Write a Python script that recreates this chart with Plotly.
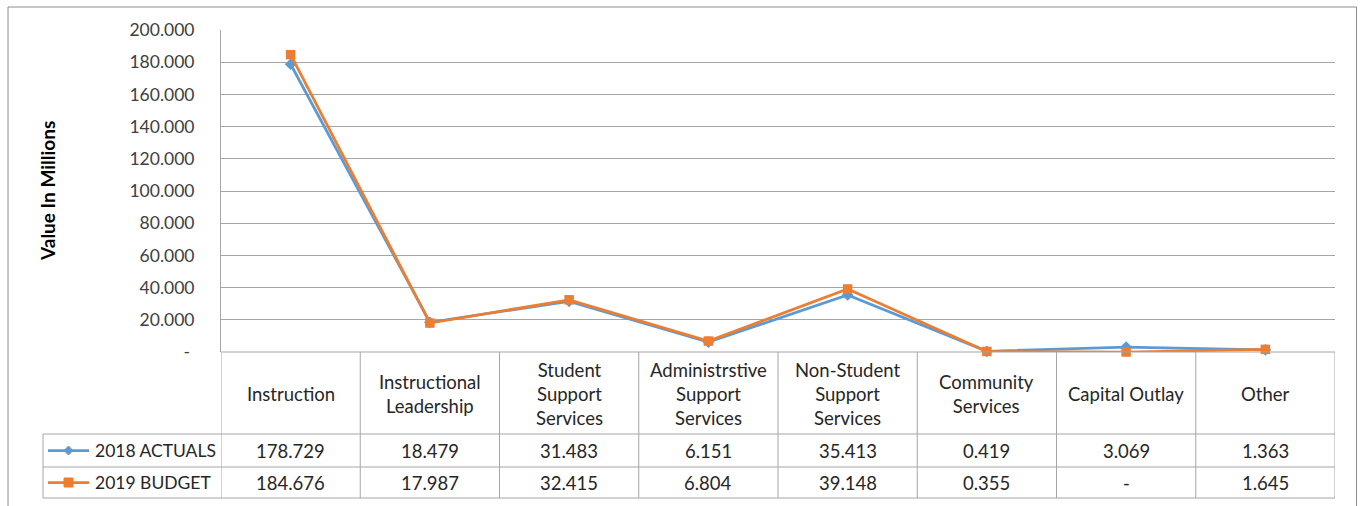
import plotly.graph_objects as go

# Categories and series values (millions)
categories = [
    "Instruction",
    "Instructional<br>Leadership",
    "Student<br>Support<br>Services",
    "Administrstive<br>Support<br>Services",
    "Non-Student<br>Support<br>Services",
    "Community<br>Services",
    "Capital Outlay",
    "Other",
]
actuals_2018 = [178.729, 18.479, 31.483, 6.151, 35.413, 0.419, 3.069, 1.363]
budget_2019 = [184.676, 17.987, 32.415, 6.804, 39.148, 0.355, 0.0, 1.645]
series_names = ["2018 ACTUALS", "2019 BUDGET"]
y_ticks = [0, 20, 40, 60, 80, 100, 120, 140, 160, 180, 200]

W, H = 1364, 506
BLUE = "#5B9BD5"
ORANGE = "#ED7D31"
GRID = "#A6A6A6"
TEXT = "#262626"
FONT = "Lato"
TABLE_SIZE = 18.5


def px(x):
    return x / W


def py(y):
    return 1 - y / H


def fmt(v):
    return "-" if v == 0 else f"{v:.3f}"


# Layout geometry (pixels)
PLOT_L, PLOT_R = 221, 1335
PLOT_T, PLOT_B = 30, 352
HEAD_B, ROW1_B, ROW2_B = 434, 467, 498
LEG_L = 43

xs = list(range(len(categories)))

fig = go.Figure()
fig.add_trace(go.Scatter(
    x=xs, y=actuals_2018, mode="lines+markers", name=series_names[0],
    line=dict(color=BLUE, width=2.75),
    marker=dict(symbol="diamond", size=9, color=BLUE),
    cliponaxis=False, showlegend=False,
))
fig.add_trace(go.Scatter(
    x=xs, y=budget_2019, mode="lines+markers", name=series_names[1],
    line=dict(color=ORANGE, width=2.75),
    marker=dict(symbol="square", size=9.5, color=ORANGE),
    cliponaxis=False, showlegend=False,
))

shapes = []
annotations = []

# Outer chart border
shapes.append(dict(type="rect", xref="paper", yref="paper",
                   x0=px(8), x1=px(1356.5), y0=py(512), y1=py(7),
                   line=dict(color="#8C8C8C", width=1), fillcolor="rgba(0,0,0,0)"))

# Data table grid: horizontal rules
shapes.append(dict(type="line", xref="paper", yref="paper",
                   x0=px(PLOT_L), x1=px(PLOT_R), y0=py(PLOT_B), y1=py(PLOT_B),
                   line=dict(color=GRID, width=1)))
for yy in (HEAD_B, ROW1_B, ROW2_B):
    shapes.append(dict(type="line", xref="paper", yref="paper",
                       x0=px(LEG_L), x1=px(PLOT_R), y0=py(yy), y1=py(yy),
                       line=dict(color=GRID, width=1)))
# vertical rules at category boundaries
for i in range(len(categories) + 1):
    shapes.append(dict(type="line", xref="x", yref="paper",
                       x0=i - 0.5, x1=i - 0.5, y0=py(PLOT_B), y1=py(ROW2_B),
                       line=dict(color=GRID, width=1)))
# legend column left edge
shapes.append(dict(type="line", xref="paper", yref="paper",
                   x0=px(LEG_L), x1=px(LEG_L), y0=py(HEAD_B), y1=py(ROW2_B),
                   line=dict(color=GRID, width=1)))

# Category headers
for i, cat in enumerate(categories):
    annotations.append(dict(x=i, y=py((PLOT_B + HEAD_B) / 2 + 1), xref="x", yref="paper",
                            text=cat, showarrow=False, align="center",
                            xanchor="center", yanchor="middle",
                            font=dict(family=FONT, size=TABLE_SIZE, color=TEXT)))

# Table value rows with legend keys
rows = [(actuals_2018, series_names[0], BLUE, "diamond", (HEAD_B + ROW1_B) / 2),
        (budget_2019, series_names[1], ORANGE, "square", (ROW1_B + ROW2_B) / 2)]
for values, name, color, sym, yc in rows:
    for i, v in enumerate(values):
        annotations.append(dict(x=i, y=py(yc), xref="x", yref="paper",
                                text=fmt(v), showarrow=False,
                                xanchor="center", yanchor="middle",
                                font=dict(family=FONT, size=TABLE_SIZE, color=TEXT)))
    annotations.append(dict(x=px(93), y=py(yc), xref="paper", yref="paper",
                            text=name, showarrow=False, xanchor="left", yanchor="middle",
                            font=dict(family=FONT, size=17.5, color=TEXT)))
    shapes.append(dict(type="line", xref="paper", yref="paper",
                       x0=px(48), x1=px(89), y0=py(yc), y1=py(yc),
                       line=dict(color=color, width=2.75)))
    cx, cy = 68.5, yc
    if sym == "diamond":
        path = (f"M {px(cx)},{py(cy - 4.5)} L {px(cx + 4.5)},{py(cy)} "
                f"L {px(cx)},{py(cy + 4.5)} L {px(cx - 4.5)},{py(cy)} Z")
        shapes.append(dict(type="path", xref="paper", yref="paper", path=path,
                           fillcolor=color, line=dict(color=color, width=1)))
    else:
        shapes.append(dict(type="rect", xref="paper", yref="paper",
                           x0=px(cx - 4.5), x1=px(cx + 4.5),
                           y0=py(cy + 4.5), y1=py(cy - 4.5),
                           fillcolor=color, line=dict(color=color, width=1)))

# Y-axis title
annotations.append(dict(x=px(47), y=py((PLOT_T + PLOT_B) / 2), xref="paper", yref="paper",
                        text="<b>Value In Millions</b>", textangle=-90, showarrow=False,
                        xanchor="center", yanchor="middle",
                        font=dict(family=FONT, size=19, color="#000000")))

fig.update_layout(
    width=W, height=H,
    margin=dict(l=0, r=0, t=0, b=0, autoexpand=False),
    paper_bgcolor="white", plot_bgcolor="white",
    xaxis=dict(domain=[px(PLOT_L), px(PLOT_R)], range=[-0.5, len(categories) - 0.5],
               showticklabels=False, showgrid=False, zeroline=False, showline=False,
               automargin=False, fixedrange=True),
    yaxis=dict(domain=[py(PLOT_B), py(PLOT_T)], range=[0, 200],
               tickvals=y_ticks,
               ticktext=[("-\u00a0" if v == 0 else f"{v:.3f}") for v in y_ticks],
               showgrid=True, gridcolor=GRID, gridwidth=1,
               zeroline=False, showline=True, linecolor=GRID, linewidth=1,
               ticks="", ticklabelstandoff=22, automargin=False,
               tickfont=dict(family=FONT, size=17.5, color="#404040"),
               fixedrange=True),
    shapes=shapes,
    annotations=annotations,
    showlegend=False,
)

fig.write_html("out.html")
